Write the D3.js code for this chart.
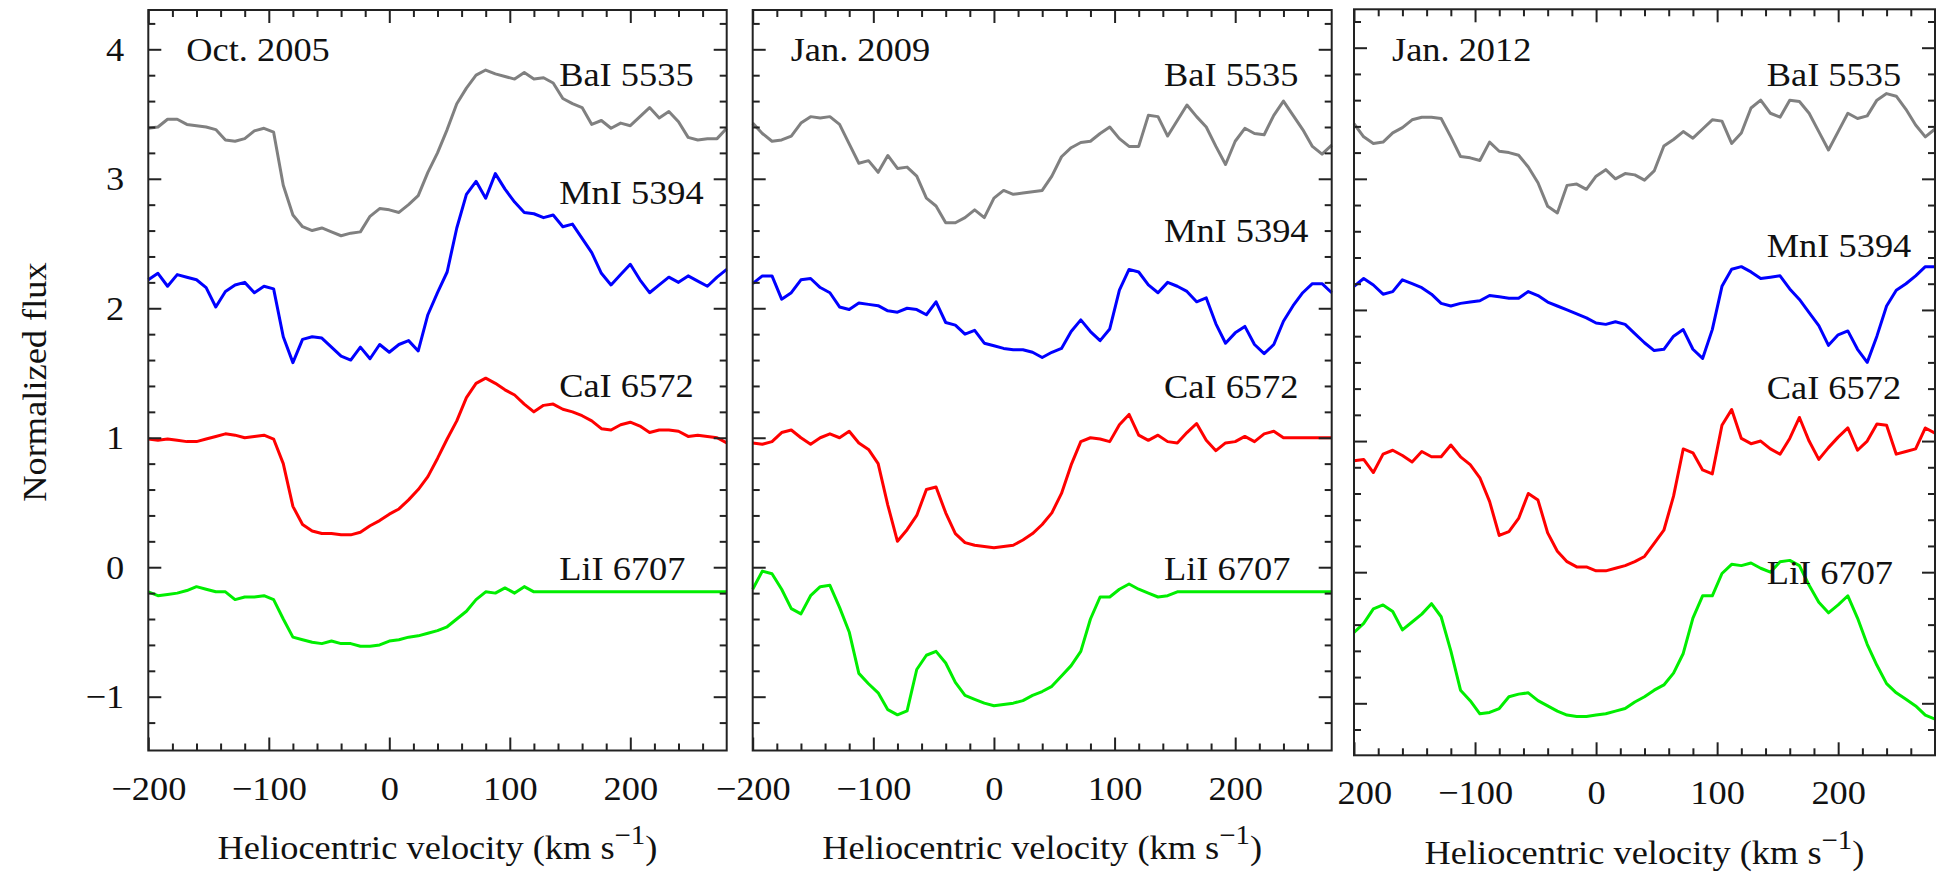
<!DOCTYPE html>
<html>
<head>
<meta charset="utf-8">
<script src="https://cdn.jsdelivr.net/npm/d3@7"></script>
<style>
  body { margin: 0; background: #fff; }
</style>
</head>
<body>
<div id="chart"></div>
<script>
// heliocentric velocity grid (km/s), shared by every spectrum
const velocity = [-200,-192,-184,-176,-168,-160,-152,-144,-136,-128,-120,-112,-104,-96,-88,-80,-72,-64,-56,-48,
  -40,-32,-24,-16,-8,0,8,16,24,32,40,48,56,64,72,80,88,96,104,112,
  120,128,136,144,152,160,168,176,184,192,200,208,216,224,232,240,248,256,264,272,280];

const epochs = ["Oct. 2005", "Jan. 2009", "Jan. 2012"];
const lineNames = ["BaI 5535", "MnI 5394", "CaI 6572", "LiI 6707"];
const lineColors = ["#808080", "#0000ff", "#ff0000", "#00ee00"];

// Oct. 2005 (spectra offset vertically as in the paper)
const ba2005 = [3.39,3.40,3.46,3.46,3.42,3.41,3.40,3.38,3.30,3.29, 3.31,3.37,3.39,3.36,2.95,2.72,2.63,2.60,2.62,2.59,
  2.56,2.58,2.59,2.71,2.77,2.76,2.74,2.80,2.87,3.05, 3.20,3.38,3.58,3.70,3.80,3.84,3.81,3.79,3.77,3.82,
  3.77,3.78,3.74,3.62,3.58,3.55,3.42,3.45,3.39,3.43, 3.41,3.48,3.55,3.47,3.52,3.44,3.32,3.30,3.31,3.31,3.39];
const mn2005 = [2.22,2.27,2.17,2.26,2.24,2.22,2.16,2.01,2.13,2.18, 2.20,2.12,2.17,2.15,1.78,1.58,1.76,1.78,1.77,1.70,
  1.63,1.60,1.70,1.61,1.72,1.66,1.72,1.75,1.67,1.95, 2.12,2.28,2.62,2.88,2.98,2.85,3.04,2.92,2.82,2.74,
  2.73,2.70,2.72,2.63,2.65,2.54,2.43,2.27,2.18,2.26, 2.34,2.22,2.12,2.18,2.24,2.20,2.25,2.21,2.17,2.24,2.30];
const ca2005 = [0.99,0.98,0.99,0.98,0.97,0.97,0.99,1.01,1.03,1.02, 1.00,1.01,1.02,0.99,0.80,0.47,0.33,0.28,0.26,0.26,
  0.25,0.25,0.27,0.32,0.36,0.41,0.45,0.52,0.60,0.70, 0.84,0.99,1.13,1.31,1.42,1.46,1.42,1.37,1.33,1.26,
  1.20,1.25,1.26,1.22,1.20,1.17,1.13,1.07,1.06,1.10, 1.12,1.09,1.04,1.06,1.06,1.05,1.01,1.02,1.01,1.00,0.96];
const li2005 = [-0.19,-0.22,-0.21,-0.20,-0.18,-0.15,-0.17,-0.19,-0.19,-0.25, -0.23,-0.23,-0.22,-0.25,-0.40,-0.54,-0.56,-0.58,-0.59,-0.57,
  -0.59,-0.59,-0.61,-0.61,-0.60,-0.57,-0.56,-0.54,-0.53,-0.51, -0.49,-0.46,-0.40,-0.34,-0.25,-0.19,-0.20,-0.16,-0.20,-0.15,
  -0.19,-0.19,-0.19,-0.19,-0.19,-0.19,-0.19,-0.19,-0.19,-0.19, -0.19,-0.19,-0.19,-0.19,-0.19,-0.19,-0.19,-0.19,-0.19,-0.19,-0.19];

// Jan. 2009
const ba2009 = [3.43,3.35,3.29,3.30,3.33,3.43,3.48,3.47,3.48,3.42, 3.27,3.12,3.14,3.05,3.18,3.08,3.09,3.02,2.85,2.79,
  2.66,2.66,2.70,2.76,2.70,2.85,2.91,2.88,2.89,2.90, 2.91,3.02,3.17,3.24,3.28,3.29,3.35,3.40,3.31,3.25,
  3.25,3.49,3.48,3.33,3.45,3.57,3.48,3.40,3.25,3.11, 3.29,3.39,3.35,3.34,3.49,3.60,3.49,3.38,3.25,3.19,3.26];
const mn2009 = [2.19,2.25,2.25,2.07,2.12,2.22,2.23,2.16,2.12,2.01, 1.99,2.04,2.03,2.02,1.98,1.97,2.00,1.99,1.95,2.05,
  1.89,1.87,1.80,1.83,1.73,1.71,1.69,1.68,1.68,1.66, 1.62,1.66,1.69,1.82,1.91,1.82,1.75,1.84,2.14,2.30,
  2.28,2.18,2.12,2.20,2.17,2.13,2.05,2.08,1.88,1.73, 1.81,1.86,1.72,1.65,1.72,1.90,2.02,2.12,2.19,2.19,2.12];
const ca2009 = [0.96,0.95,0.97,1.04,1.06,1.00,0.95,1.00,1.03,1.00, 1.05,0.96,0.91,0.80,0.48,0.20,0.29,0.40,0.60,0.62,
  0.42,0.26,0.19,0.17,0.16,0.15,0.16,0.17,0.21,0.26, 0.33,0.42,0.57,0.79,0.97,1.00,0.99,0.97,1.10,1.18,
  1.02,0.98,1.02,0.97,0.96,1.04,1.11,0.98,0.90,0.96, 0.97,1.01,0.97,1.03,1.05,1.00,1.00,1.00,1.00,1.00,1.00];
const li2009 = [-0.17,-0.03,-0.05,-0.17,-0.32,-0.36,-0.22,-0.15,-0.14,-0.31, -0.50,-0.82,-0.90,-0.97,-1.10,-1.14,-1.11,-0.79,-0.68,-0.65,
  -0.74,-0.89,-0.99,-1.02,-1.05,-1.07,-1.06,-1.05,-1.03,-0.99, -0.96,-0.92,-0.84,-0.76,-0.65,-0.40,-0.23,-0.23,-0.17,-0.13,
  -0.17,-0.20,-0.23,-0.22,-0.19,-0.19,-0.19,-0.19,-0.19,-0.19, -0.19,-0.19,-0.19,-0.19,-0.19,-0.19,-0.19,-0.19,-0.19,-0.19,-0.19];

// Jan. 2012
const ba2012 = [3.42,3.32,3.27,3.28,3.35,3.39,3.45,3.47,3.47,3.46, 3.32,3.17,3.16,3.14,3.28,3.21,3.20,3.18,3.09,2.97,
  2.79,2.74,2.95,2.96,2.92,3.02,3.07,3.00,3.04,3.03, 2.99,3.06,3.25,3.30,3.36,3.31,3.38,3.45,3.44,3.27,
  3.35,3.54,3.60,3.50,3.47,3.60,3.59,3.50,3.36,3.22, 3.36,3.50,3.46,3.48,3.60,3.65,3.63,3.53,3.41,3.32,3.38];
const mn2012 = [2.18,2.24,2.19,2.12,2.14,2.23,2.20,2.17,2.12,2.05, 2.03,2.05,2.06,2.07,2.11,2.10,2.09,2.09,2.14,2.11,
  2.06,2.03,2.00,1.97,1.94,1.90,1.89,1.91,1.89,1.82, 1.75,1.69,1.70,1.80,1.85,1.70,1.63,1.85,2.18,2.31,
  2.33,2.29,2.24,2.25,2.26,2.16,2.08,1.98,1.88,1.73, 1.81,1.84,1.70,1.60,1.80,2.03,2.15,2.20,2.26,2.33,2.33];
const ca2012 = [0.85,0.86,0.76,0.90,0.93,0.89,0.84,0.92,0.88,0.88, 0.97,0.88,0.82,0.72,0.54,0.28,0.31,0.41,0.60,0.55,
  0.30,0.16,0.08,0.04,0.04,0.01,0.01,0.03,0.05,0.08, 0.12,0.22,0.32,0.58,0.94,0.91,0.78,0.75,1.12,1.24,
  1.02,0.98,1.00,0.94,0.90,1.02,1.18,1.00,0.86,0.95, 1.03,1.10,0.93,1.00,1.13,1.12,0.90,0.92,0.94,1.10,1.06];
const li2012 = [-0.46,-0.39,-0.28,-0.25,-0.30,-0.44,-0.38,-0.32,-0.24,-0.34, -0.60,-0.90,-0.98,-1.08,-1.07,-1.04,-0.95,-0.93,-0.92,-0.98,
  -1.02,-1.06,-1.09,-1.10,-1.10,-1.09,-1.08,-1.06,-1.04,-0.99, -0.95,-0.90,-0.86,-0.77,-0.62,-0.35,-0.18,-0.18,-0.01,0.06,
  0.05,0.07,0.03,0.00,0.08,0.09,0.05,-0.10,-0.23,-0.31, -0.25,-0.18,-0.35,-0.55,-0.71,-0.85,-0.92,-0.97,-1.02,-1.09,-1.12];

const spectra = [
  [ba2005, mn2005, ca2005, li2005],
  [ba2009, mn2009, ca2009, li2009],
  [ba2012, mn2012, ca2012, li2012]
];

const xMajor = [-200, -100, 0, 100, 200];
const yMajor = [-1, 0, 1, 2, 3, 4];

// frame geometry of each of the three panels (pixels)
const panels = [
  { left: 148.3, right: 726.7, top: 10, bottom: 750.5, y4: 49.3, yM1: 696.7, labelY: [86, 204, 397, 580] },
  { left: 752.7, right: 1331.7, top: 10, bottom: 750.5, y4: 49.3, yM1: 696.7, labelY: [86, 242, 398, 580] },
  { left: 1354, right: 1935, top: 9.3, bottom: 755.3, y4: 47.7, yM1: 703.3, labelY: [86, 257, 399, 584] }
];

const font = "'Liberation Serif', 'Times New Roman', Times, 'DejaVu Serif', serif";
const fs = 34;      // font size
const sx = 1.07;    // the original lettering is a bit wider than Times
const ink = "#222";

const fmt = d => d < 0 ? "\u2212" + Math.abs(d) : String(d);

const svg = d3.select("#chart").append("svg")
  .attr("width", 1943)
  .attr("height", 874)
  .attr("font-family", font)
  .style("font-family", font);

function widen(sel) {
  sel.each(function () {
    const w = this.getComputedTextLength();
    d3.select(this).attr("textLength", w * sx).attr("lengthAdjust", "spacingAndGlyphs");
  });
}

function styleAxis(g) {
  g.select(".domain").remove();
  g.attr("font-family", font).attr("font-size", fs).attr("color", ink);
  g.selectAll("text").attr("fill", "#111").style("font-family", font);
  g.selectAll("line").attr("stroke-width", 2);
}

panels.forEach((p, i) => {
  const x = d3.scaleLinear().domain([-200, 280]).range([p.left, p.right]);
  const y = d3.scaleLinear().domain([-1, 4]).range([p.yM1, p.y4]);
  const g = svg.append("g");

  const xMinor = d3.range(-180, 280, 20).filter(v => v % 100 !== 0);
  const yMinor = d3.range(-1.2, 4.3, 0.2).map(v => +v.toFixed(1)).filter(v => !Number.isInteger(v));

  // spectra
  const line = d3.line()
    .x((d, k) => x(velocity[k]))
    .y(d => y(d));
  spectra[i].forEach((s, k) => {
    g.append("path")
      .attr("d", line(s))
      .attr("fill", "none")
      .attr("stroke", lineColors[k])
      .attr("stroke-width", 3)
      .attr("stroke-linejoin", "round");
  });

  // inward ticks on all four sides
  const bottom = g.append("g").attr("transform", `translate(0,${p.bottom})`);
  bottom.append("g")
    .call(d3.axisBottom(x).tickValues(xMajor).tickSizeInner(-13).tickSizeOuter(0).tickPadding(25).tickFormat(fmt))
    .call(styleAxis);
  bottom.append("g")
    .call(d3.axisBottom(x).tickValues(xMinor).tickSizeInner(-7).tickSizeOuter(0).tickFormat(""))
    .call(styleAxis);

  const top = g.append("g").attr("transform", `translate(0,${p.top})`);
  top.append("g")
    .call(d3.axisTop(x).tickValues(xMajor).tickSizeInner(-13).tickSizeOuter(0).tickFormat(""))
    .call(styleAxis);
  top.append("g")
    .call(d3.axisTop(x).tickValues(xMinor).tickSizeInner(-7).tickSizeOuter(0).tickFormat(""))
    .call(styleAxis);

  const left = g.append("g").attr("transform", `translate(${p.left},0)`);
  left.append("g")
    .call(d3.axisLeft(y).tickValues(yMajor).tickSizeInner(-13).tickSizeOuter(0).tickPadding(24)
      .tickFormat(i === 0 ? fmt : ""))
    .call(styleAxis);
  left.append("g")
    .call(d3.axisLeft(y).tickValues(yMinor).tickSizeInner(-7).tickSizeOuter(0).tickFormat(""))
    .call(styleAxis);

  const right = g.append("g").attr("transform", `translate(${p.right},0)`);
  right.append("g")
    .call(d3.axisRight(y).tickValues(yMajor).tickSizeInner(-13).tickSizeOuter(0).tickFormat(""))
    .call(styleAxis);
  right.append("g")
    .call(d3.axisRight(y).tickValues(yMinor).tickSizeInner(-7).tickSizeOuter(0).tickFormat(""))
    .call(styleAxis);

  // the last panel's -200 label is cut by the neighbouring panel in the original
  if (i === 2) {
    bottom.selectAll(".tick text")
      .filter(d => d === -200)
      .text("200")
      .attr("text-anchor", "start")
      .attr("x", -17);
  }
  g.selectAll(".tick text").call(widen);

  // frame
  g.append("rect")
    .attr("x", p.left)
    .attr("y", p.top)
    .attr("width", p.right - p.left)
    .attr("height", p.bottom - p.top)
    .attr("fill", "none")
    .attr("stroke", ink)
    .attr("stroke-width", 2);

  // epoch and line labels
  g.append("text")
    .attr("x", p.left + 38)
    .attr("y", 61)
    .attr("font-size", fs)
    .attr("fill", "#111")
    .text(epochs[i])
    .call(widen);

  lineNames.forEach((name, k) => {
    g.append("text")
      .attr("x", x(141))
      .attr("y", p.labelY[k])
      .attr("font-size", fs)
      .attr("fill", "#111")
      .text(name)
      .call(widen);
  });

  // x axis title with superscript
  const xt = g.append("text")
    .attr("transform", `translate(${(p.left + p.right) / 2},${p.bottom + 108.5}) scale(${sx},1)`)
    .attr("text-anchor", "middle")
    .attr("font-size", fs)
    .attr("fill", "#111");
  xt.append("tspan").text("Heliocentric velocity (km s");
  xt.append("tspan").attr("dy", -15).attr("font-size", 27).text("\u22121");
  xt.append("tspan").attr("dy", 15).text(")");
});

svg.append("text")
  .attr("transform", `translate(46,382) rotate(-90) scale(${sx},1)`)
  .attr("text-anchor", "middle")
  .attr("font-size", fs)
  .attr("fill", "#111")
  .text("Normalized flux");
</script>
</body>
</html>
